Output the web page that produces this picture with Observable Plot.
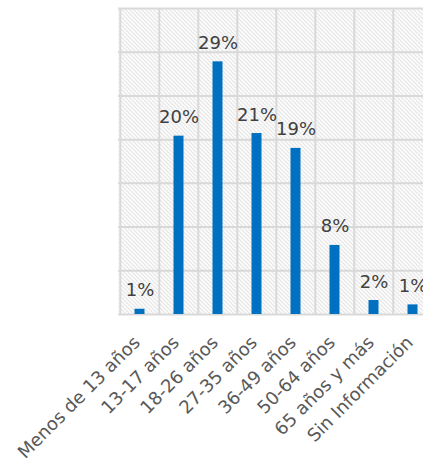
<!DOCTYPE html>
<html>
<head>
<meta charset="utf-8">
<script src="https://cdn.jsdelivr.net/npm/d3@7"></script>
<script src="https://cdn.jsdelivr.net/npm/@observablehq/plot@0.6"></script>
<style>
  body { margin: 0; background: #fff; }
  svg { display: block; }
</style>
</head>
<body>
<div id="chart"></div>
<script>
const categories = ["Menos de 13 años", "13-17 años", "18-26 años", "27-35 años", "36-49 años", "50-64 años", "65 años y más", "Sin Información"];
const values = [0.6, 20.4, 28.9, 20.7, 19.0, 7.9, 1.6, 1.1];
const labels = ["1%", "20%", "29%", "21%", "19%", "8%", "2%", "1%"];
const yTicks = [0, 5, 10, 15, 20, 25, 30, 35];

const data = categories.map((c, i) => ({cat: c, value: values[i], label: labels[i]}));

const plot = Plot.plot({
  width: 423,
  height: 461,
  marginLeft: 118,
  marginRight: 0,
  marginTop: 8,
  marginBottom: 147,
  style: {fontFamily: "DejaVu Sans", background: "#fff", overflow: "hidden"},
  x: {domain: categories, range: [118, 433], padding: 0, axis: null},
  y: {domain: [0, 35], axis: null},
  marks: [
    Plot.frame({fill: "url(#hatch)", stroke: null}),
    Plot.gridX(categories, {stroke: "#d9d9d9", strokeWidth: 2, strokeOpacity: 1, x: d => d, dx: -19.7}),
    Plot.gridY(yTicks, {stroke: "#d9d9d9", strokeWidth: 2, strokeOpacity: 1}),
    Plot.barY(data, {x: "cat", y: "value", fill: "#0070C0", insetLeft: 14.5, insetRight: 14.5}),
    Plot.text(data, {x: "cat", y: "value", text: "label", dy: -13, lineAnchor: "bottom", fontSize: 18, fill: "#404040"}),
    Plot.axisX({tickSize: 0, tickRotate: -45, tickPadding: 25, fontSize: 18, fill: "#595959", textAnchor: "end", label: null, dx: -3})
  ]
});

const ns = "http://www.w3.org/2000/svg";
const defs = document.createElementNS(ns, "defs");
defs.innerHTML = `<pattern id="hatch" patternUnits="userSpaceOnUse" width="4" height="4">
  <rect width="4" height="4" fill="#fff"/>
  <path d="M-1,-1 L5,5 M-1,3 L1,5 M3,-1 L5,1" stroke="#d0d0d0" stroke-width="1"/>
</pattern>`;
plot.insertBefore(defs, plot.firstChild);
document.getElementById("chart").appendChild(plot);
</script>
</body>
</html>
